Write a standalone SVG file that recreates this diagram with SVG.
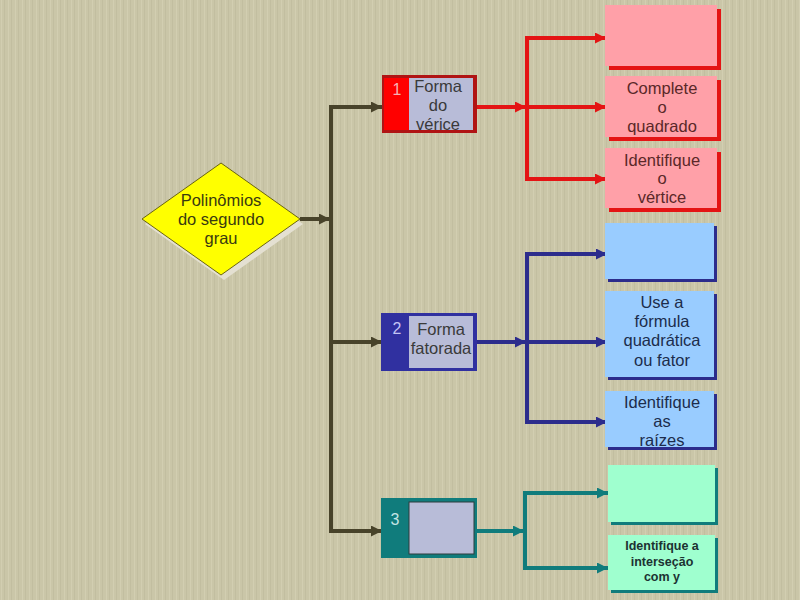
<svg xmlns="http://www.w3.org/2000/svg" width="800" height="600" viewBox="0 0 800 600">
<defs>
<pattern id="tex" width="7" height="600" patternUnits="userSpaceOnUse">
<rect width="7" height="600" fill="#cac6a8"/>
<rect x="1" width="1" height="600" fill="#d6d2b6" opacity="0.7"/>
<rect x="4" width="1" height="600" fill="#bdb99b" opacity="0.6"/>
</pattern>
<marker id="aD" viewBox="0 0 10 10" refX="10" refY="5" markerWidth="12" markerHeight="11" markerUnits="userSpaceOnUse" orient="auto"><path d="M0,0 L10,5 L0,10 Z" fill="#48432a"/></marker>
<marker id="aR" viewBox="0 0 10 10" refX="10" refY="5" markerWidth="12" markerHeight="11" markerUnits="userSpaceOnUse" orient="auto"><path d="M0,0 L10,5 L0,10 Z" fill="#e41414"/></marker>
<marker id="aB" viewBox="0 0 10 10" refX="10" refY="5" markerWidth="12" markerHeight="11" markerUnits="userSpaceOnUse" orient="auto"><path d="M0,0 L10,5 L0,10 Z" fill="#2c2c8c"/></marker>
<marker id="aT" viewBox="0 0 10 10" refX="10" refY="5" markerWidth="12" markerHeight="11" markerUnits="userSpaceOnUse" orient="auto"><path d="M0,0 L10,5 L0,10 Z" fill="#107c7c"/></marker>
</defs>
<style>
text{font-family:"Liberation Sans",Arial,sans-serif;font-size:16.5px;text-anchor:middle}
.dk{fill:none;stroke:#48432a;stroke-width:4}
.rd{fill:none;stroke:#e41414;stroke-width:4}
.bl{fill:none;stroke:#2c2c8c;stroke-width:4}
.tl{fill:none;stroke:#107c7c;stroke-width:4}
.pink{fill:#ffa0a8}.pinks{fill:#e41414}
.blue{fill:#99ccff}.blues{fill:#2c2c8c}
.mint{fill:#9fffcf}.mints{fill:#107c7c}
.inner{fill:#b8bcd8}
.tp{fill:#5a2828}.tb{fill:#1c2c4c}.tm{fill:#1c3232;font-size:12.5px;font-weight:bold}.tg{fill:#3a3a3a}
.num{font-size:16px}
</style>
<rect width="800" height="600" fill="url(#tex)"/>

<g id="connectors">
<path class="dk" d="M300,219 H330" marker-end="url(#aD)"/>
<path class="dk" d="M331,105 V533"/>
<path class="dk" d="M329,107 H382" marker-end="url(#aD)"/>
<path class="dk" d="M331,342 H382" marker-end="url(#aD)"/>
<path class="dk" d="M329,531 H382" marker-end="url(#aD)"/>
<path class="rd" d="M476,107 H526" marker-end="url(#aR)"/>
<path class="rd" d="M527,36 V181"/>
<path class="rd" d="M525,38 H606" marker-end="url(#aR)"/>
<path class="rd" d="M527,107 H606" marker-end="url(#aR)"/>
<path class="rd" d="M525,179 H606" marker-end="url(#aR)"/>
<path class="bl" d="M477,342 H526" marker-end="url(#aB)"/>
<path class="bl" d="M527,252 V424"/>
<path class="bl" d="M525,254 H607" marker-end="url(#aB)"/>
<path class="bl" d="M527,342 H607" marker-end="url(#aB)"/>
<path class="bl" d="M525,422 H607" marker-end="url(#aB)"/>
<path class="tl" d="M477,531 H524" marker-end="url(#aT)"/>
<path class="tl" d="M525,491 V570"/>
<path class="tl" d="M523,493 H608" marker-end="url(#aT)"/>
<path class="tl" d="M523,568 H608" marker-end="url(#aT)"/>
</g>

<g id="diamond">
<polygon points="224,168 303,224 224,280 145,224" fill="#e4e0d2"/>
<polygon points="221,163 300,219 221,275 142,219" fill="#ffff00" stroke="#6a6410" stroke-width="1"/>
<text x="221" y="206" fill="#3a3a10">Polinômios</text>
<text x="221" y="225" fill="#3a3a10">do segundo</text>
<text x="221" y="244" fill="#3a3a10">grau</text>
</g>

<g id="box1">
<rect x="382" y="75" width="95" height="58" fill="#b01414"/>
<rect x="384" y="78" width="25" height="52" fill="#ff0000"/>
<rect x="409" y="78" width="64" height="52" class="inner"/>
<text x="397" y="95" class="num" fill="#f4b4b4">1</text>
<text x="438" y="92" class="tg">Forma</text>
<text x="438" y="111" class="tg">do</text>
<text x="438" y="130" class="tg">vérice</text>
</g>

<g id="box2">
<rect x="381" y="313" width="96" height="58" fill="#3030a0"/>
<rect x="409" y="316" width="64" height="52" class="inner"/>
<text x="397" y="334" class="num" fill="#c4c4f4">2</text>
<text x="441" y="335" class="tg">Forma</text>
<text x="441" y="354" class="tg">fatorada</text>
</g>

<g id="box3">
<rect x="381" y="498" width="96" height="60" fill="#107c7c"/>
<rect x="409" y="502" width="65" height="52" class="inner" stroke="#2c3c3c" stroke-width="1"/>
<text x="395" y="525" class="num" fill="#c4e4e4">3</text>
</g>

<g id="pinkA">
<rect x="609" y="9" width="112" height="61" class="pinks"/>
<rect x="605" y="5" width="112" height="61" class="pink"/>
</g>
<g id="pinkB">
<rect x="609" y="80" width="112" height="61" class="pinks"/>
<rect x="605" y="76" width="112" height="61" class="pink"/>
<text x="662" y="94" class="tp">Complete</text>
<text x="662" y="113" class="tp">o</text>
<text x="662" y="132" class="tp">quadrado</text>
</g>
<g id="pinkC">
<rect x="609" y="152" width="112" height="60" class="pinks"/>
<rect x="605" y="148" width="112" height="60" class="pink"/>
<text x="662" y="166" class="tp">Identifique</text>
<text x="662" y="184" class="tp">o</text>
<text x="662" y="203" class="tp">vértice</text>
</g>

<g id="blueD">
<rect x="608" y="226" width="109" height="56" class="blues"/>
<rect x="605" y="223" width="109" height="56" class="blue"/>
</g>
<g id="blueE">
<rect x="608" y="294" width="109" height="86" class="blues"/>
<rect x="605" y="291" width="109" height="86" class="blue"/>
<text x="662" y="308" class="tb">Use a</text>
<text x="662" y="327" class="tb">fórmula</text>
<text x="662" y="346" class="tb">quadrática</text>
<text x="662" y="366" class="tb">ou fator</text>
</g>
<g id="blueF">
<rect x="608" y="394" width="109" height="56" class="blues"/>
<rect x="605" y="391" width="109" height="56" class="blue"/>
<text x="662" y="408" class="tb">Identifique</text>
<text x="662" y="427" class="tb">as</text>
<text x="662" y="446" class="tb">raízes</text>
</g>

<g id="mintG">
<rect x="611" y="468" width="107" height="57" class="mints"/>
<rect x="608" y="465" width="107" height="57" class="mint"/>
</g>
<g id="mintH">
<rect x="611" y="538" width="107" height="55" class="mints"/>
<rect x="608" y="535" width="107" height="55" class="mint"/>
<text x="662" y="550" class="tm">Identifique a</text>
<text x="662" y="566" class="tm">interseção</text>
<text x="662" y="581" class="tm">com y</text>
</g>
</svg>
